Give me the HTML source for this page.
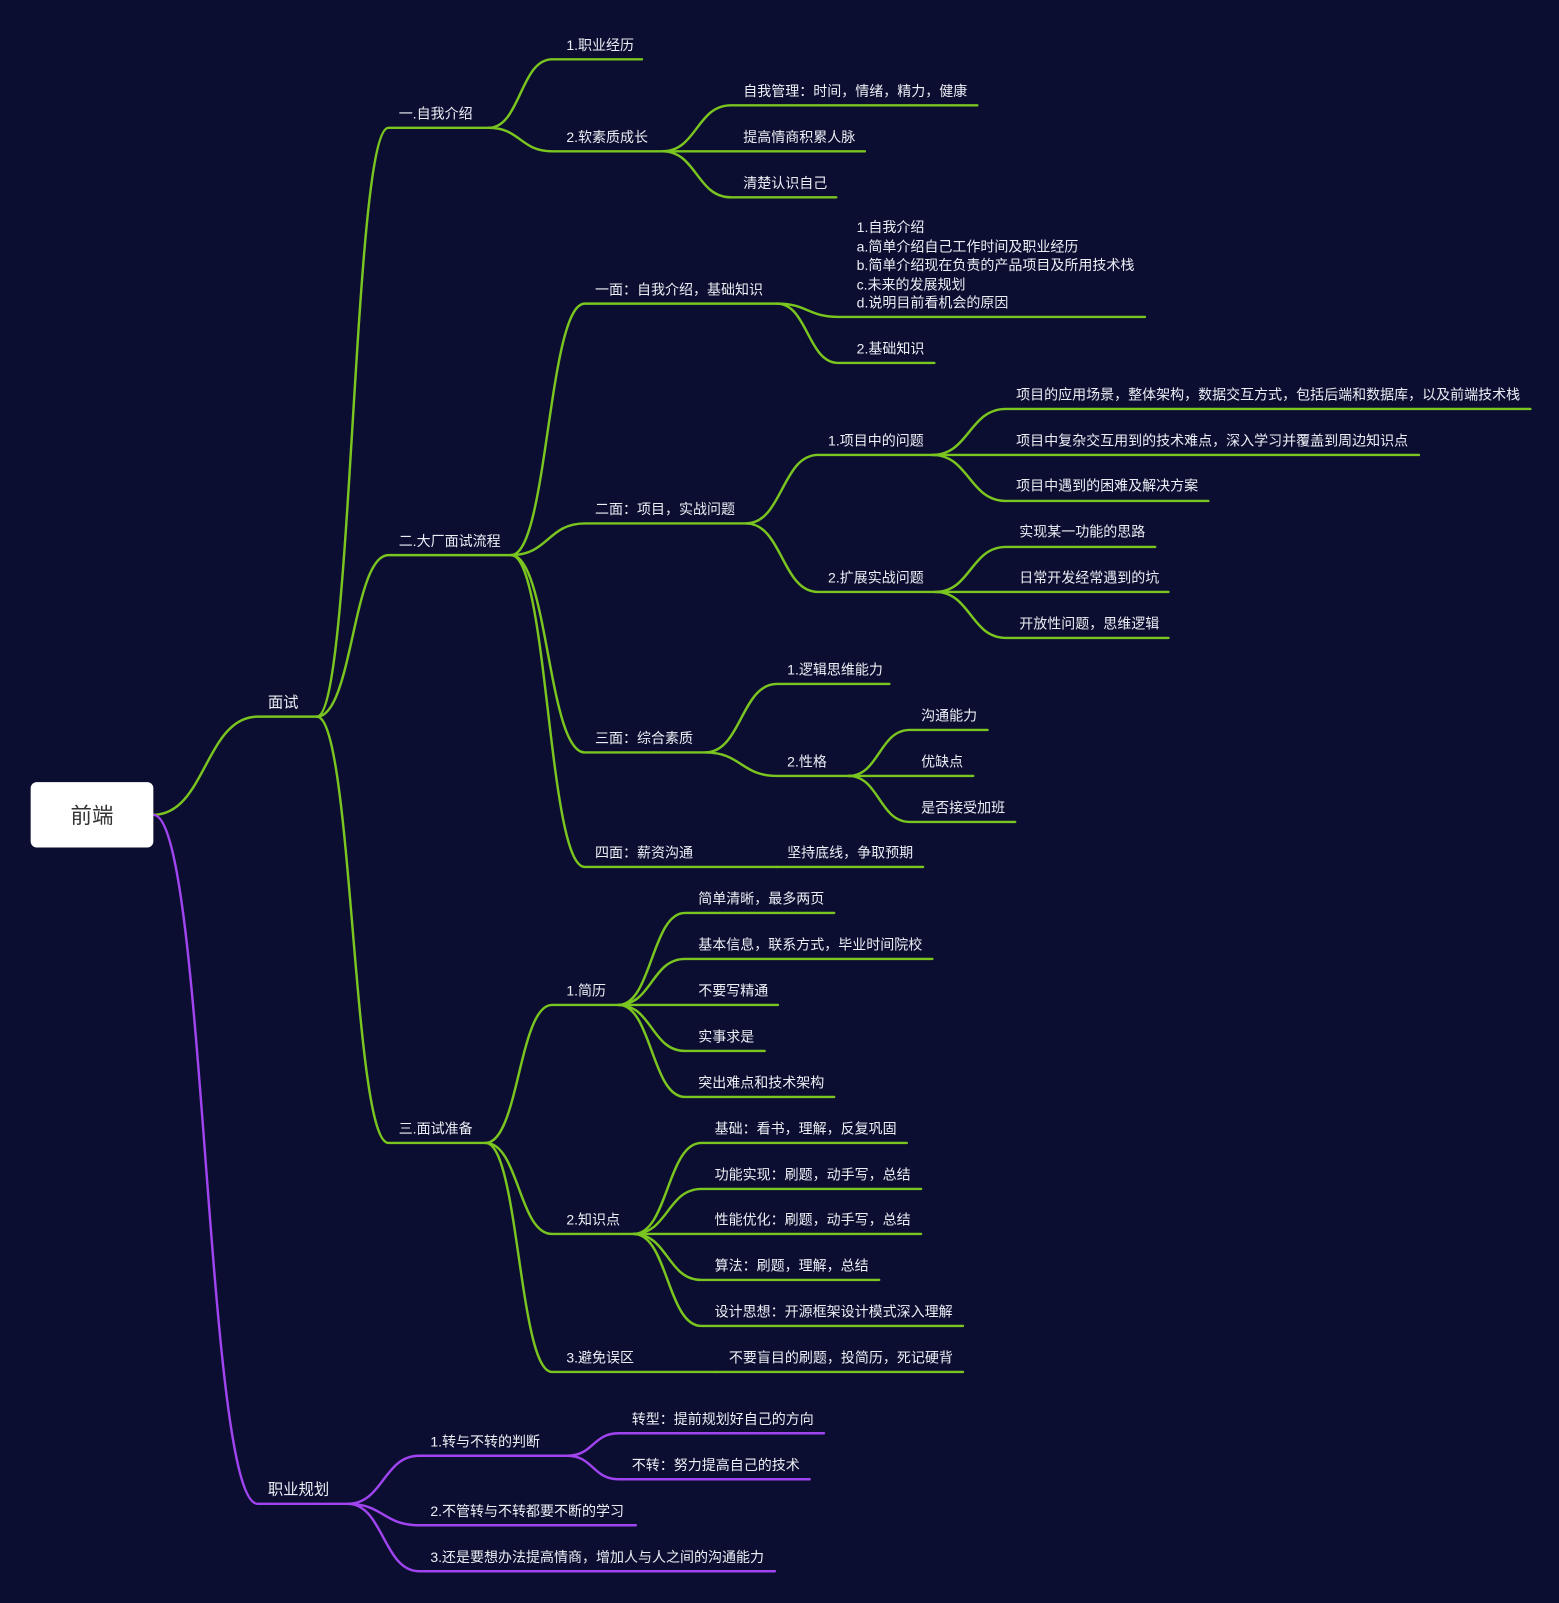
<!DOCTYPE html>
<html><head><meta charset="utf-8"><style>
html,body{margin:0;padding:0;background:#0b0e30;}
svg{display:block}
text{font-family:"Liberation Sans","Noto Sans CJK SC",sans-serif;font-size:13.7px;fill:#eceef5}
</style></head><body>
<svg id="s" width="1559" height="1603" viewBox="0 0 1525 1568" xmlns="http://www.w3.org/2000/svg">
<rect x="0" y="0" width="1525" height="1568" fill="#0b0e30"/>
<g id="lines" fill="none" stroke-width="2.4" stroke-linecap="round"></g>
<rect x="30" y="765" width="120" height="64" rx="6" fill="#fff"/>
<text x="90" y="805" text-anchor="middle" style="font-size:21px;fill:#333">前端</text>
<text x="262" y="692" style="font-size:15px">面试</text>
<text x="262" y="1462" style="font-size:15px">职业规划</text>
<text x="390" y="116">一.自我介绍</text>
<text x="554" y="49">1.职业经历</text>
<text x="554" y="139">2.软素质成长</text>
<text x="727" y="94">自我管理：时间，情绪，精力，健康</text>
<text x="727" y="139">提高情商积累人脉</text>
<text x="727" y="184">清楚认识自己</text>
<text x="390" y="534">二.大厂面试流程</text>
<text x="582" y="288">一面：自我介绍，基础知识</text>
<text x="838" y="227">1.自我介绍</text>
<text x="838" y="246">a.简单介绍自己工作时间及职业经历</text>
<text x="838" y="264">b.简单介绍现在负责的产品项目及所用技术栈</text>
<text x="838" y="283">c.未来的发展规划</text>
<text x="838" y="301">d.说明目前看机会的原因</text>
<text x="838" y="346">2.基础知识</text>
<text x="582" y="503">二面：项目，实战问题</text>
<text x="810" y="436">1.项目中的问题</text>
<text x="994" y="391">项目的应用场景，整体架构，数据交互方式，包括后端和数据库，以及前端技术栈</text>
<text x="994" y="436">项目中复杂交互用到的技术难点，深入学习并覆盖到周边知识点</text>
<text x="994" y="480">项目中遇到的困难及解决方案</text>
<text x="810" y="570">2.扩展实战问题</text>
<text x="997" y="525">实现某一功能的思路</text>
<text x="997" y="570">日常开发经常遇到的坑</text>
<text x="997" y="615">开放性问题，思维逻辑</text>
<text x="582" y="727">三面：综合素质</text>
<text x="770" y="660">1.逻辑思维能力</text>
<text x="770" y="750">2.性格</text>
<text x="901" y="705">沟通能力</text>
<text x="901" y="750">优缺点</text>
<text x="901" y="795">是否接受加班</text>
<text x="582" y="839">四面：薪资沟通</text>
<text x="770" y="839">坚持底线，争取预期</text>
<text x="390" y="1109">三.面试准备</text>
<text x="554" y="974">1.简历</text>
<text x="683" y="884">简单清晰，最多两页</text>
<text x="683" y="929">基本信息，联系方式，毕业时间院校</text>
<text x="683" y="974">不要写精通</text>
<text x="683" y="1019">实事求是</text>
<text x="683" y="1064">突出难点和技术架构</text>
<text x="554" y="1198">2.知识点</text>
<text x="699" y="1109">基础：看书，理解，反复巩固</text>
<text x="699" y="1154">功能实现：刷题，动手写，总结</text>
<text x="699" y="1198">性能优化：刷题，动手写，总结</text>
<text x="699" y="1243">算法：刷题，理解，总结</text>
<text x="699" y="1288">设计思想：开源框架设计模式深入理解</text>
<text x="554" y="1333">3.避免误区</text>
<text x="713" y="1333">不要盲目的刷题，投简历，死记硬背</text>
<text x="421" y="1415">1.转与不转的判断</text>
<text x="618" y="1393">转型：提前规划好自己的方向</text>
<text x="618" y="1438">不转：努力提高自己的技术</text>
<text x="421" y="1483">2.不管转与不转都要不断的学习</text>
<text x="421" y="1528">3.还是要想办法提高情商，增加人与人之间的沟通能力</text>
</svg>
<script>
var G='#7ac520',P='#a044f0';
var N=[
['ms','root',701,252,310,G],
['zy','root',1471,252,340,P],
['a','ms',125,380,478,G],
['a1','a',58,540,628,G],
['a2','a',148,540,648,G],
['a21','a2',103,715,956,G],
['a22','a2',148,715,846,G],
['a23','a2',193,715,818,G],
['b','ms',543,380,500,G],
['b1','b',297,572,760,G],
['b11','b1',310,820,1120,G],
['b12','b1',355,820,914,G],
['b2','b',512,572,730,G],
['b21','b2',445,800,912,G],
['b211','b21',400,984,1497,G],
['b212','b21',445,984,1388,G],
['b213','b21',490,984,1182,G],
['b22','b2',579,800,915,G],
['b221','b22',535,984,1130,G],
['b222','b22',579,984,1143,G],
['b223','b22',624,984,1143,G],
['b3','b',736,572,690,G],
['b31','b3',669,760,870,G],
['b32','b3',759,760,830,G],
['b321','b32',714,890,966,G],
['b322','b32',759,890,952,G],
['b323','b32',804,890,993,G],
['b4','b',848,572,760,G],
['b41','b4',848,760,903,G],
['c','ms',1118,380,475,G],
['c1','c',983,540,605,G],
['c11','c1',893,670,816,G],
['c12','c1',938,670,912,G],
['c13','c1',983,670,761,G],
['c14','c1',1028,670,748,G],
['c15','c1',1073,670,816,G],
['c2','c',1207,540,620,G],
['c21','c2',1118,686,887,G],
['c22','c2',1163,686,901,G],
['c23','c2',1207,686,901,G],
['c24','c2',1252,686,860,G],
['c25','c2',1297,686,942,G],
['c3','c',1342,540,700,G],
['c31','c3',1342,700,942,G],
['z1','zy',1424,410,555,P],
['z11','z1',1402,605,806,P],
['z12','z1',1447,605,792,P],
['z2','zy',1492,410,622,P],
['z3','zy',1537,410,758,P]
];
var M={root:{y:797,x2:150}};
var h='';
N.forEach(function(n){
 var p=M[n[1]];M[n[0]]={y:n[2],x2:n[4]};
 var x0=p.x2,y0=p.y,x1=n[3],y1=n[2],dx=x1-x0;
 h+='<path stroke="'+n[5]+'" d="M'+x0+' '+y0+' C'+(x0+dx*0.5)+' '+y0+' '+(x0+dx*0.5)+' '+y1+' '+x1+' '+y1+' L'+n[4]+' '+y1+'"/>';
});
document.getElementById('lines').innerHTML=h;
</script>
</body></html>
